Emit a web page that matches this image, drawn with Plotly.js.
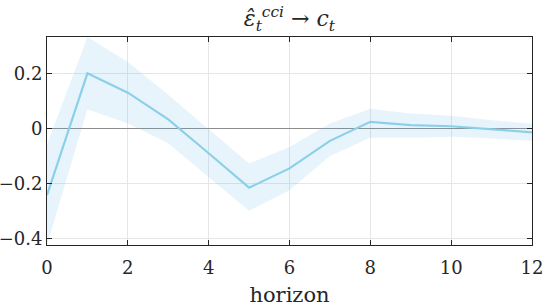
<!DOCTYPE html>
<html>
<head>
<meta charset="utf-8">
<script src="https://cdn.plot.ly/plotly-3.0.1.min.js"></script>
<style>html,body{margin:0;padding:0;background:#fff;}#chart{width:545px;height:307px;}</style>
</head>
<body>
<div id="chart"></div>
<script>
const horizon = [0, 1, 2, 3, 4, 5, 6, 7, 8, 9, 10, 11, 12];
const irf   = [-0.242, 0.200, 0.130, 0.033, -0.090, -0.215, -0.145, -0.045, 0.024, 0.012, 0.008, -0.003, -0.014];
const upper = [-0.058, 0.332, 0.241, 0.122, -0.003, -0.127, -0.067, 0.018, 0.072, 0.054, 0.046, 0.030, 0.017];
const lower = [-0.423, 0.070, 0.018, -0.054, -0.177, -0.299, -0.224, -0.100, -0.034, -0.034, -0.030, -0.036, -0.045];
const xTickVals = [0, 2, 4, 6, 8, 10, 12];
const yTickVals = [-0.4, -0.2, 0, 0.2];
const yTickText = ['\u22120.4', '\u22120.2', '0', '0.2'];

const lineColor = '#8BD0E8';
const bandColor = 'rgba(102,182,228,0.15)';

const traces = [
  {x: horizon, y: lower, type: 'scatter', mode: 'lines', line: {width: 0, color: bandColor}, hoverinfo: 'skip', showlegend: false},
  {x: horizon, y: upper, type: 'scatter', mode: 'lines', fill: 'tonexty', fillcolor: bandColor, line: {width: 0, color: bandColor}, hoverinfo: 'skip', showlegend: false},
  {x: horizon, y: irf, type: 'scatter', mode: 'lines', line: {width: 2.2, color: lineColor}, showlegend: false}
];

const font = '"DejaVu Serif", serif';
const layout = {
  width: 545, height: 307,
  margin: {l: 46.7, r: 12.5, t: 36.7, b: 62},
  paper_bgcolor: '#fff', plot_bgcolor: '#fff',
  font: {family: font, size: 18, color: '#262626'},
  title: {text: '<i>ε̂</i><sub><i>t</i></sub><sup><i>cci</i></sup> → <i>c</i><sub><i>t</i></sub>', font: {family: font, size: 22, color: '#262626'}, x: 0.531, xanchor: 'center', y: 0.94, yanchor: 'middle', yref: 'container'},
  xaxis: {
    range: [0, 12], tickvals: xTickVals, ticks: 'inside', ticklen: 5, tickcolor: '#262626',
    showline: true, linecolor: '#262626', linewidth: 1, mirror: 'ticks',
    showgrid: true, gridcolor: '#e6e6e6', gridwidth: 1, zeroline: false,
    ticklabelstandoff: 6,
    tickfont: {family: font, size: 18, color: '#262626'},
    title: {text: 'horizon', font: {family: font, size: 21, color: '#262626'}, standoff: 10}
  },
  yaxis: {
    range: [-0.423, 0.332], tickvals: yTickVals, ticktext: yTickText, ticks: 'inside', ticklen: 5, tickcolor: '#262626',
    showline: true, linecolor: '#262626', linewidth: 1, mirror: 'ticks',
    showgrid: true, gridcolor: '#e6e6e6', gridwidth: 1,
    zeroline: true, zerolinecolor: '#8c8c8c', zerolinewidth: 1.2,
    tickfont: {family: font, size: 18, color: '#262626'}
  }
};

Plotly.newPlot('chart', traces, layout, {displayModeBar: false, staticPlot: true});
</script>
</body>
</html>
